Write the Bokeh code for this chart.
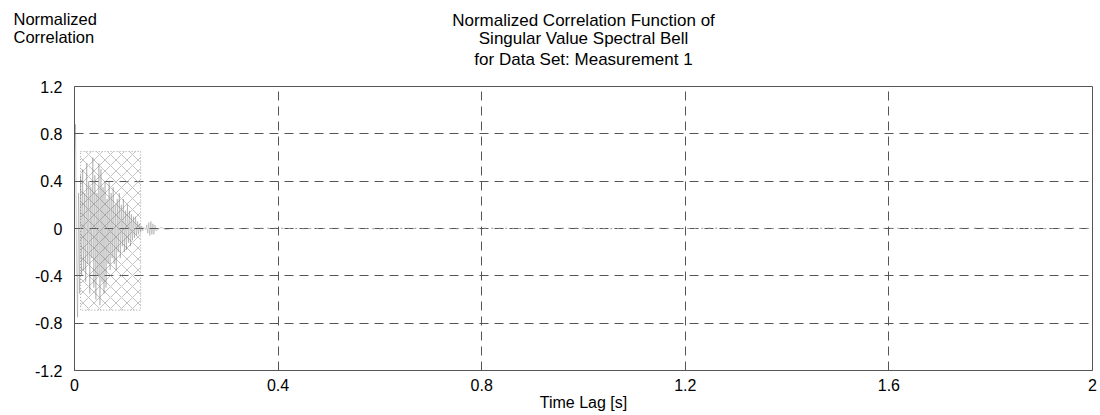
from bokeh.plotting import figure
from bokeh.models import FixedTicker, Title
from bokeh.embed import file_html
from bokeh.resources import INLINE

# ---- data ----
x_ticks = [0, 0.4, 0.8, 1.2, 1.6, 2.0]
y_ticks = [-1.2, -0.8, -0.4, 0, 0.4, 0.8, 1.2]
x_tick_labels = ["0", "0.4", "0.8", "1.2", "1.6", "2"]
y_tick_labels = ["-1.2", "-0.8", "-0.4", "0", "0.4", "0.8", "1.2"]

# dense early part of the correlation function (time lag in s)
t_early = [0.000, 0.002, 0.004, 0.006, 0.008, 0.010, 0.012, 0.014, 0.016, 0.018,
           0.020, 0.022, 0.024, 0.026, 0.028, 0.030, 0.032, 0.034, 0.036, 0.038,
           0.040, 0.042, 0.044, 0.046, 0.048, 0.050, 0.052, 0.054, 0.056, 0.058,
           0.060, 0.062, 0.064, 0.066, 0.068, 0.070, 0.072, 0.074, 0.076, 0.078,
           0.080, 0.082, 0.084, 0.086, 0.088, 0.090, 0.092, 0.094, 0.096, 0.098,
           0.100, 0.102, 0.104, 0.106, 0.108, 0.110, 0.112, 0.114, 0.116, 0.118,
           0.120, 0.122, 0.124, 0.126, 0.128, 0.130, 0.132, 0.134, 0.136, 0.138,
           0.140, 0.142, 0.144, 0.146, 0.148, 0.150, 0.152, 0.154, 0.156, 0.158,
           0.160, 0.170, 0.180, 0.190, 0.200]
r_early = [0.60, 0.88, -0.20, -0.75, 0.30, -0.55, 0.45, -0.40, 0.50, -0.35,
           0.30, -0.45, 0.55, -0.30, 0.40, -0.55, 0.35, -0.25, 0.60, -0.50,
           0.45, -0.60, 0.30, -0.40, 0.55, -0.65, 0.50, -0.45, 0.35, -0.55,
           0.40, -0.50, 0.25, -0.30, 0.40, -0.35, 0.30, -0.25, 0.35, -0.30,
           0.20, -0.35, 0.25, -0.20, 0.30, -0.25, 0.20, -0.15, 0.25, -0.20,
           0.15, -0.18, 0.20, -0.12, 0.15, -0.15, 0.12, -0.10, 0.10, -0.08,
           0.10, -0.06, 0.06, -0.05, 0.04, -0.03, 0.02, -0.02, 0.01, 0.00,
           -0.01, 0.03, -0.04, 0.05, -0.06, 0.06, -0.05, 0.04, -0.05, 0.03,
           -0.02, 0.01, -0.01, 0.00, 0.00]

# long near-zero tail
t_tail = [0.20, 0.25, 0.30, 0.35, 0.40, 0.45, 0.50, 0.55, 0.60, 0.65, 0.70,
          0.75, 0.80, 0.85, 0.90, 0.95, 1.00, 1.05, 1.10, 1.15, 1.20, 1.25,
          1.30, 1.35, 1.40, 1.45, 1.50, 1.55, 1.60, 1.65, 1.70, 1.75, 1.80,
          1.85, 1.90, 1.95, 2.00]
r_tail = [0.00, 0.004, -0.003, 0.002, 0.003, -0.002, 0.001, 0.002, -0.003, 0.002, 0.001,
          -0.002, 0.003, 0.002, -0.001, 0.002, 0.003, -0.002, 0.001, 0.002, -0.001, 0.003,
          0.002, -0.002, 0.001, 0.002, 0.003, -0.001, 0.002, 0.001, -0.002, 0.003,
          0.002, 0.001, -0.002, 0.002, 0.001]

# envelope of the densely oscillating region
env_left = [0.012]
env_right = [0.130]
env_top = [0.65]
env_bottom = [-0.69]

title_lines = ["Normalized Correlation Function of",
               "Singular Value Spectral Bell",
               "for Data Set: Measurement 1"]
y_title = "Normalized\nCorrelation"
x_title = "Time Lag [s]"

FONT = "Liberation Sans"

p = figure(width=1100, height=415, output_backend="svg", toolbar_location=None,
           x_range=(0, 2), y_range=(-1.2, 1.2),
           min_border_left=74, min_border_right=8, min_border_top=86, min_border_bottom=45)
p.background_fill_color = "white"
p.border_fill_color = "white"
p.outline_line_color = "#555555"
p.outline_line_width = 1

for ax in (p.xaxis[0], p.yaxis[0]):
    ax.major_label_text_font = FONT
    ax.major_label_text_font_size = "16px"
    ax.major_label_text_color = "black"
    ax.major_tick_line_color = None
    ax.minor_tick_line_color = None
    ax.axis_line_color = "#555555"
p.xaxis[0].ticker = FixedTicker(ticks=x_ticks)
p.yaxis[0].ticker = FixedTicker(ticks=y_ticks)
p.xaxis[0].major_label_overrides = dict(zip(x_ticks, x_tick_labels))
p.yaxis[0].major_label_overrides = dict(zip(y_ticks, y_tick_labels))
p.xaxis[0].major_label_standoff = 2
p.yaxis[0].major_label_standoff = 6
p.xaxis[0].axis_label = x_title
p.xaxis[0].axis_label_text_font = FONT
p.xaxis[0].axis_label_text_font_size = "16px"
p.xaxis[0].axis_label_text_font_style = "normal"
p.xaxis[0].axis_label_text_color = "black"
p.xaxis[0].axis_label_standoff = 0

p.xgrid.grid_line_color = "#555555"
p.ygrid.grid_line_color = "#555555"
p.xgrid.grid_line_dash = "9 6"
p.ygrid.grid_line_dash = "9 6"
p.xgrid.grid_line_width = 1
p.ygrid.grid_line_width = 1

# hatched envelope of the dense oscillation
p.quad(left=env_left, right=env_right, top=env_top, bottom=env_bottom,
       fill_color=None, line_color="#a0a0a0", line_dash="1 2", line_width=1,
       hatch_pattern="diagonal_cross", hatch_color="#a0a0a0", hatch_scale=11,
       hatch_weight=0.7, hatch_alpha=0.9)

p.line(t_tail, r_tail, line_color="#9a9a9a", line_width=1, line_dash="2 5")
p.line(t_early, r_early, line_color="#6a6a6a", line_width=0.6, line_alpha=0.55)

p.title.visible = False

def title(text, so, size="17px", align="center", offset=0):
    p.add_layout(Title(text=text, align=align, offset=offset, text_font=FONT,
                       text_font_size=size, text_font_style="normal",
                       text_color="black", standoff=so), "above")

# stacked from the frame outwards
title(" ", -3)                       # spacer between the frame and the title
title(title_lines[2], 0)
title(title_lines[1], -1)
title(y_title, -37, size="16.5px", align="left", offset=-61)   # near-zero-height overlay
title(title_lines[0], -7)

open("out.html", "w").write(file_html(p, INLINE))
